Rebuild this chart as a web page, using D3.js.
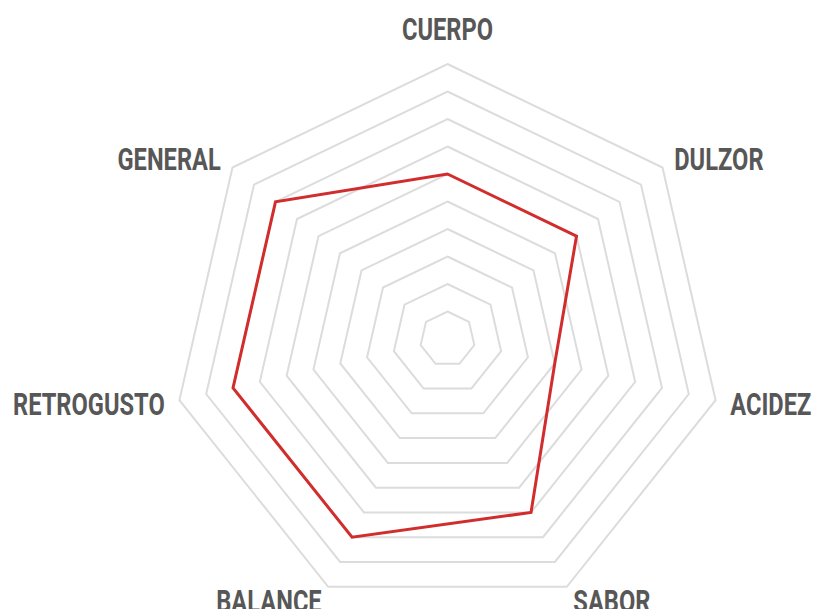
<!DOCTYPE html>
<html>
<head>
<meta charset="utf-8">
<script src="https://cdn.jsdelivr.net/npm/d3@7"></script>
<style>
  body { margin: 0; background: #fff; }
  svg { display: block; }
</style>
</head>
<body>
<div id="radar"></div>
<script>
// axes of the cupping sheet, clockwise from the top
var categories = ["CUERPO", "DULZOR", "ACIDEZ", "SABOR", "BALANCE", "RETROGUSTO", "GENERAL"];
var values = [6, 6, 4, 7, 8, 8, 8];
var levels = [1, 2, 3, 4, 5, 6, 7, 8, 9, 10];

var width = 814,
    height = 609,
    cx = 447.5,
    cy = 339,
    radius = 275;

var r = d3.scaleLinear()
  .domain([0, 10])
  .range([0, radius]);

var angle = d3.scaleLinear()
  .domain([0, categories.length])
  .range([0, 2 * Math.PI]);

var svg = d3.select("#radar").append("svg")
  .attr("width", width)
  .attr("height", height)
    .append("g")
    .attr("transform", "translate(" + cx + "," + cy + ")");

var radial = d3.lineRadial()
  .angle(function(d, i) { return angle(i); })
  .radius(function(d) { return r(d); })
  .curve(d3.curveLinearClosed);

// grid rings
svg.selectAll(".ring")
  .data(levels)
  .enter().append("path")
  .attr("class", "ring")
  .attr("d", function(l) { return radial(categories.map(function() { return l; })); })
  .style("fill", "none")
  .style("stroke", "#dcdcdc")
  .style("stroke-width", 2);

// values
svg.append("path")
  .attr("d", radial(values))
  .style("fill", "none")
  .style("stroke", "#d12d2d")
  .style("stroke-width", 3)
  .style("stroke-linejoin", "miter");

// labels
var labelR = r(10) + 15;
svg.selectAll(".label")
  .data(categories)
  .enter().append("text")
  .attr("class", "label")
  .attr("transform", function(d, i) {
    var a = angle(i),
        x = Math.sin(a) * labelR,
        y = -Math.cos(a) * labelR;
    if (i === 0) y = -r(10) - 24;
    return "translate(" + x + "," + y + ") scale(0.74,1)";
  })
  .attr("text-anchor", function(d, i) {
    var s = Math.sin(angle(i));
    return Math.abs(s) < 0.01 ? "middle" : (s > 0 ? "start" : "end");
  })
  .attr("dy", function(d, i) { return i === 0 ? "0" : ".36em"; })
  .style("font-family", "Roboto, 'DejaVu Sans', sans-serif")
  .style("font-weight", 700)
  .style("font-size", "32px")
  .style("fill", "#575757")
  .text(function(d) { return d; });
</script>
</body>
</html>
